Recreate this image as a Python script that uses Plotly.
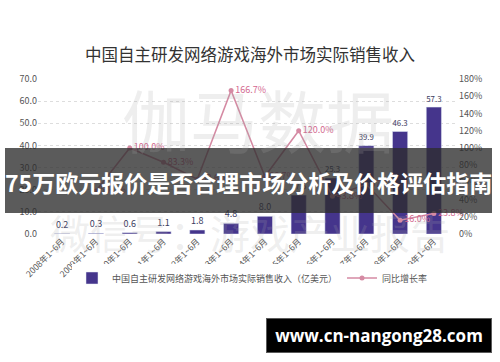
import plotly.graph_objects as go

categories = ["2008年1~6月", "2009年1~6月", "2010年1~6月", "2011年1~6月", "2012年1~6月",
              "2013年1~6月", "2014年1~6月", "2015年1~6月", "2016年1~6月", "2017年1~6月",
              "2018年1~6月", "2019年1~6月"]
revenue = [0.2, 0.3, 0.6, 1.1, 1.8, 4.8, 8.0, 17.6, 25.3, 39.9, 46.3, 57.3]
growth = [None, 50.0, 100.0, 83.3, 63.6, 166.7, 66.7, 120.0, 43.8, 57.7, 16.0, 23.8]

title = "中国自主研发网络游戏海外市场实际销售收入"
bar_name = "中国自主研发网络游戏海外市场实际销售收入（亿美元）"
line_name = "同比增长率"
banner_text = "75万欧元报价是否合理市场分析及价格评估指南"
site_text = "www.cn-nangong28.com"
wm1 = "伽马数据"
wm2 = "微信号：游戏产业报告"

FONT = "Noto Sans CJK SC"
W, H = 500, 362
L, R, T, B = 38, 42, 79, 128
pw, ph = W - L - R, H - T - B

def px(x):
    return (x - L) / pw

def py(y):
    return (H - B - y) / ph

fig = go.Figure()
fig.add_trace(go.Bar(
    x=categories, y=revenue, name=bar_name,
    marker=dict(color="#45358c"), width=0.45,
    text=[f"{v:.1f}" for v in revenue], textposition="outside",
    textfont=dict(size=9, color="#3b3b5e", family=FONT),
    cliponaxis=False, yaxis="y"))
fig.add_trace(go.Scatter(
    x=categories, y=growth, name=line_name, yaxis="y2",
    mode="lines+markers+text",
    line=dict(color="#d58aa3", width=1.6),
    marker=dict(size=5, color="#d58aa3"),
    text=[None if g is None else f"{g:.1f}%" for g in growth],
    textposition="middle right",
    textfont=dict(size=9, color="#d4688f", family=FONT),
    cliponaxis=False))

shapes = [
    dict(type="rect", xref="paper", yref="paper", x0=px(5), x1=px(492), y0=py(213), y1=py(148),
         fillcolor="rgba(45,45,45,0.78)", line=dict(width=0), layer="above"),
]

annotations = [
    dict(text=wm1, xref="paper", yref="paper", x=px(258), y=py(118), xanchor="center",
         yanchor="middle", showarrow=False,
         font=dict(size=68, color="rgba(170,170,170,0.2)", family=FONT)),
    dict(text=wm2, xref="paper", yref="paper", x=px(250), y=py(232), xanchor="center",
         yanchor="middle", showarrow=False,
         font=dict(size=40, color="rgba(170,170,170,0.2)", family=FONT)),
    dict(text=f"<b>{banner_text}</b>", xref="paper", yref="paper", x=px(248), y=py(182),
         xanchor="center", yanchor="middle",
         showarrow=False, font=dict(size=23, color="white", family=FONT)),
    dict(text=f"<b>{site_text}</b>", xref="paper", yref="paper", x=px(379), y=py(335),
         xanchor="center", yanchor="middle", width=224, height=33, bgcolor="#000000",
         bordercolor="#5a5a5a", borderpad=0, borderwidth=1,
         showarrow=False, font=dict(size=17, color="white", family="Open Sans")),
]

fig.update_layout(
    width=W, height=H, margin=dict(l=L, r=R, t=T, b=B),
    paper_bgcolor="white", plot_bgcolor="white",
    font=dict(family=FONT, color="#555"),
    title=dict(text=title, x=0.5, xanchor="center", y=1 - 55 / H, yanchor="middle",
               font=dict(size=16.5, color="#333", family=FONT)),
    xaxis=dict(tickangle=-45, tickfont=dict(size=8.5, color="#555"), showgrid=False,
               showline=False, ticks=""),
    yaxis=dict(range=[0, 70], dtick=10, tickformat=".1f", showgrid=True,
               gridcolor="#dddddd", griddash="dot", zeroline=False,
               tickfont=dict(size=9, color="#555")),
    yaxis2=dict(range=[0, 180], dtick=20, ticksuffix="%", overlaying="y", side="right",
                showgrid=False, zeroline=False, tickfont=dict(size=9, color="#555")),
    legend=dict(orientation="h", x=px(72), xanchor="left", y=py(278), yanchor="middle",
                font=dict(size=9, color="#555"), itemwidth=30, tracegroupgap=0),
    bargap=0.55, showlegend=True,
    shapes=shapes, annotations=annotations,
)

fig.write_html("out.html")
